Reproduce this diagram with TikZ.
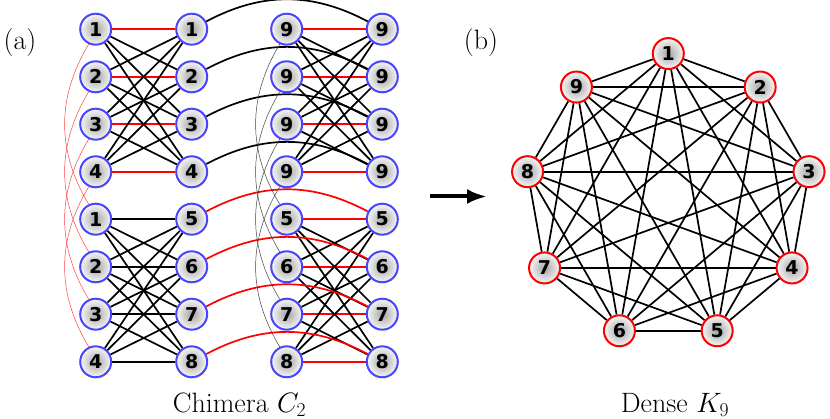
\RequirePackage{fix-cm}
\documentclass[tikz,border=0pt]{standalone}
\usepackage{fontspec}
\newfontfamily\numfont{DejaVu Sans}
\usetikzlibrary{backgrounds,arrows.meta}
\definecolor{nodeblue}{RGB}{70,70,255}
\begin{document}
\begin{tikzpicture}[x=1pt,y=1pt,
  cn/.style={circle, draw=nodeblue, line width=2pt, minimum size=31pt, inner sep=0pt,
    shading=radial, inner color=gray!72, outer color=gray!6,
    font=\numfont\bfseries\fontsize{19}{19}\selectfont},
  kn/.style={cn, draw=red},
  edge/.style={line width=1.7pt, black},
  hedge/.style={line width=1.7pt, red},
  thinred/.style={line width=0.5pt, red!75},
  thinblack/.style={line width=0.5pt, black!75},
  lbl/.style={font=\fontsize{28}{32}\selectfont, inner sep=0pt}
]
\useasboundingbox (0,0) rectangle (830,-419);

% Chimera nodes
\foreach \i/\y/\la/\lb/\lc in {1/29.2/1/1/9, 2/76.8/2/2/9, 3/124.2/3/3/9, 4/171.8/4/4/9,
                               5/219.2/1/5/5, 6/266.8/2/6/6, 7/314.2/3/7/7, 8/361.8/4/8/8}{
  \node[cn] (a\i) at (95.7,-\y) {\la};
  \node[cn] (b\i) at (191.7,-\y) {\lb};
  \node[cn] (c\i) at (286.7,-\y) {\lc};
  \node[cn] (d\i) at (382.3,-\y) {\lc};
}

% K9 nodes
\foreach \n in {1,...,9}{
  \node[kn] (k\n) at ({668.3+142.9*cos(90-40*(\n-1))},{-196.5+142.9*sin(90-40*(\n-1))}) {\n};
}

\begin{pgfonlayer}{background}
  % intra-cell horizontal couplers
  \foreach \i in {1,...,4}{
    \draw[hedge] (a\i) -- (b\i);
    \draw[hedge] (c\i) -- (d\i);
  }
  \foreach \i in {5,...,8}{
    \draw[hedge] (c\i) -- (d\i);
  }
  % intra-cell cross couplers
  \foreach \i in {1,...,4}{
    \foreach \j in {1,...,4}{
      \ifnum\i=\j\else
        \draw[edge] (a\i) -- (b\j);
        \draw[edge] (c\i) -- (d\j);
      \fi
    }
  }
  \foreach \i in {5,...,8}{
    \foreach \j in {5,...,8}{
      \draw[edge] (a\i) -- (b\j);
      \ifnum\i=\j\else
        \draw[edge] (c\i) -- (d\j);
      \fi
    }
  }
  % inter-cell horizontal couplers
  \foreach \i in {1,...,4}{
    \draw[edge] (b\i) to[bend left=28] (d\i);
  }
  \foreach \i in {5,...,8}{
    \draw[hedge] (b\i) to[bend left=28] (d\i);
  }
  % inter-cell vertical couplers
  \foreach \i in {1,...,4}{
    \pgfmathtruncatemacro\jj{\i+4}
    \draw[thinred] (a\i.245) to[bend right=31] (a\jj.115);
    \draw[thinblack] (c\i.245) to[bend right=31] (c\jj.115);
  }
  % K9 edges
  \foreach \i in {1,...,8}{
    \pgfmathtruncatemacro\nx{\i+1}
    \foreach \j in {\nx,...,9}{
      \draw[edge] (k\i) -- (k\j);
    }
  }
\end{pgfonlayer}

% arrow
\coordinate (arrS) at (430,-196.5);
\coordinate (arrE) at (487,-196.5);
\draw[line width=4pt, -{Latex[length=20pt,width=15pt]}] (arrS) -- (arrE);

% labels
\node[lbl] (la) at (20,-42.5) {(a)};
\node[lbl] (lb) at (481,-42.5) {(b)};
\node[lbl, anchor=base] (lc) at (239.5,-412.5) {Chimera $C_2$};
\node[lbl, anchor=base] (ld) at (675,-412.5) {Dense $K_9$};
\end{tikzpicture}
\end{document}
